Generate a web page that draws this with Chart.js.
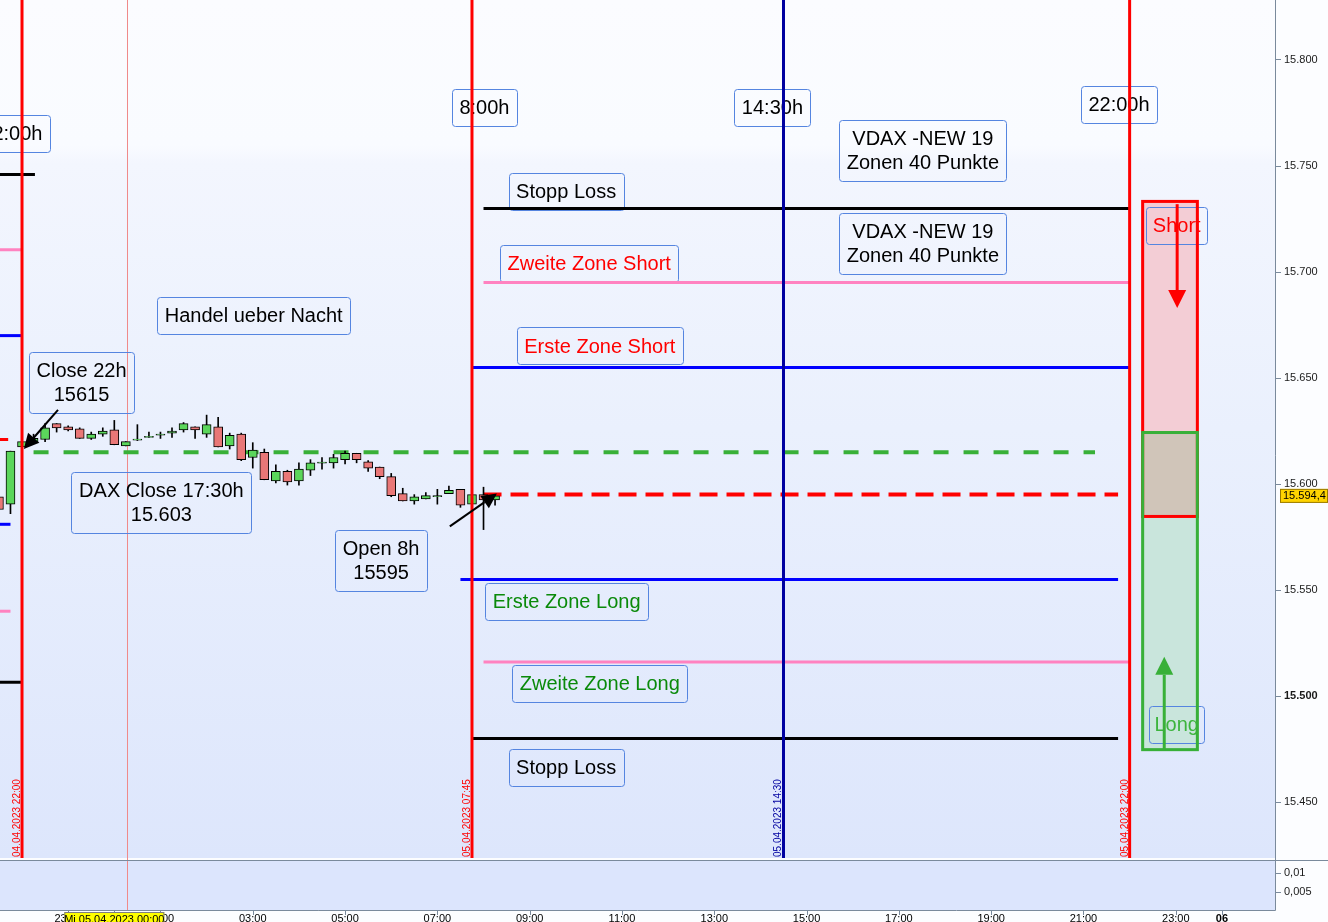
<!DOCTYPE html>
<html>
<head>
<meta charset="utf-8">
<script src="https://cdn.jsdelivr.net/npm/chart.js@4.4.0/dist/chart.umd.min.js"></script>
<style>
html,body{margin:0;padding:0;background:#fff;}
canvas{display:block;}
</style>
</head>
<body>
<canvas id="chart" width="1328" height="922"></canvas>
<script>
// 15 min DAX candles, 04.04.2023 21:30 -> 05.04.2023 08:15
const candleTimes = ['21:30','21:45','22:00','22:15','22:30','22:45','23:00','23:15','23:30','23:45',
 '00:00','00:15','00:30','00:45','01:00','01:15','01:30','01:45','02:00','02:15','02:30','02:45',
 '03:00','03:15','03:30','03:45','04:00','04:15','04:30','04:45','05:00','05:15','05:30','05:45',
 '06:00','06:15','06:30','06:45','07:00','07:15','07:30','07:45','08:00','08:15'];
const opens = [15594,15590.5,15617.5,15619.5,15621,15628.5,15627,15626,15621.5,15623.5,
 15625.5,15618,15620.7,15622,15623,15624,15625.5,15627,15623.5,15627,15618,15623.5,
 15612.5,15615,15601.5,15606,15601.5,15606.5,15609.8,15610,15611.5,15614.5,15610.5,15608,
 15603.5,15595.5,15592,15593,15594,15595.5,15597.5,15590.5,15595,15592.5];
const highs = [15600,15615.5,15620,15623.5,15628.5,15628.5,15627.5,15626.5,15624.5,15626.5,
 15630,15620,15628,15624.5,15624.5,15626.5,15629,15627,15632.5,15631.5,15624,15624,
 15619.5,15616.5,15609,15606.5,15610,15611.5,15612.5,15614,15615.5,15614.5,15611,15608,
 15605,15598,15595,15596,15597.5,15599,15597.5,15595,15598.5,15594.5];
const lows = [15585,15586,15617,15619,15620,15624.5,15625,15621.5,15621,15622.5,
 15618.5,15618,15620.5,15622,15621.5,15622,15624.5,15621.5,15622,15617.5,15616.5,15611,
 15607.5,15602,15600.5,15599.5,15599.5,15604,15607,15607.5,15609.5,15610,15606,15602.5,
 15594,15592,15590.5,15593,15590.5,15595.5,15589,15590.5,15578.5,15590];
const closes = [15588,15615.5,15620,15621.5,15626.5,15626.5,15625.5,15621.5,15623.5,15625,
 15618.5,15620,15621.2,15622.5,15623.5,15625,15628.5,15625.5,15628,15617.5,15623,15611.5,
 15616,15602,15606,15601,15607,15610,15610.3,15612.5,15614.5,15611.5,15607.5,15603.5,
 15594.5,15592,15594,15594.5,15594.5,15597,15590,15595,15592.5,15594.4];
const lastPrice = 15594.4;

// horizontal levels (hours relative to 05.04 00:00)
const levelPrices = [15730, 15695, 15655, 15615, 15595, 15555, 15516, 15480,
 15746, 15710.5, 15670, 15621, 15581, 15540, 15506.5];
const levelFrom = [8, 8, 7.75, -1.75, 8, 7.5, 8, 7.75, -2.5, -2.5, -2.5, -2.5, -2.5, -2.5, -2.5];
const levelTo = [22, 22, 22, 21.25, 21.75, 21.75, 22, 21.75, -1.72, -2, -2, -2.3, -2.25, -2.25, -2];
const levelColors = ['#000000','#ff82c0','#0000ff','#38b038','#ff0000','#0000ff','#ff82c0','#000000',
 '#000000','#ff82c0','#0000ff','#ff0000','#0000ff','#ff82c0','#000000'];
const levelDashed = [false,false,false,true,true,false,false,false,false,false,false,false,false,false,false];

// vertical session lines
const sessionStamps = ['04.04.2023 22:00','05.04.2023 07:45','05.04.2023 14:30','05.04.2023 22:00'];
const sessionColors = ['#ff0000','#ff0000','#0000a0','#ff0000'];

// zones right side
const shortZone = [15584, 15734];
const longZone = [15474, 15625];
const zoneTimes = [22.25, 23.5];

// axis ticks
const priceTicks = [15450, 15500, 15550, 15600, 15650, 15700, 15750, 15800];
const tickHours = [-1, 0, 1, 3, 5, 7, 9, 11, 13, 15, 17, 19, 21, 23, 24];

const notes = [
 {lines:['22:00h'], t:-2.22, p:15765.5, color:'#000'},
 {lines:['8:00h'], t:8.02, p:15777.5, color:'#000'},
 {lines:['14:30h'], t:14.26, p:15777.8, color:'#000'},
 {lines:['22:00h'], t:21.77, p:15779, color:'#000'},
 {lines:['VDAX -NEW 19','Zonen 40 Punkte'], t:17.52, p:15757.5, color:'#000'},
 {lines:['VDAX -NEW 19','Zonen 40 Punkte'], t:17.52, p:15713.4, color:'#000'},
 {lines:['Stopp Loss'], t:9.79, p:15738, color:'#000'},
 {lines:['Zweite Zone Short'], t:10.29, p:15703.8, color:'#ff0000'},
 {lines:['Erste Zone Short'], t:10.52, p:15665.1, color:'#ff0000'},
 {lines:['Handel ueber Nacht'], t:3.02, p:15679.5, color:'#000'},
 {lines:['Close 22h','15615'], t:-0.71, p:15648.1, color:'#000'},
 {lines:['DAX Close 17:30h','15.603'], t:1.02, p:15591.5, color:'#000'},
 {lines:['Open 8h','15595'], t:5.78, p:15564.1, color:'#000'},
 {lines:['Erste Zone Long'], t:9.8, p:15544.6, color:'#0a8a0a'},
 {lines:['Zweite Zone Long'], t:10.52, p:15505.9, color:'#0a8a0a'},
 {lines:['Stopp Loss'], t:9.79, p:15466.5, color:'#000'}
];
const zoneNotes = [
 {lines:['Short'], t:23.02, p:15721.9, color:'#ff0000', w:61},
 {lines:['Long'], t:23.02, p:15486.5, color:'#3cb43c', w:55}
];
const arrows = [
 {t1:-1.22, p1:15635, t2:-1.96, p2:15616.5, color:'#000', w:2, head:15},
 {t1:7.27, p1:15580, t2:8.29, p2:15595.5, color:'#000', w:2, head:15},
 {t1:23.03, p1:15732, t2:23.03, p2:15683, color:'#ff0000', w:3, head:18},
 {t1:22.75, p1:15474.5, t2:22.75, p2:15518.5, color:'#38b038', w:3, head:18}
];
const crossTime = 0.27;

const fam = '"Liberation Sans", Arial, Helvetica, sans-serif';
Chart.defaults.font.family = fam;

const xMin = -2.477, xMax = 25.15;
const yMin = 15423.6, yMax = 15828.3;

function hrs(s){
  const p = s.split(':').map(Number);
  let h = p[0];
  if(h >= 20) h -= 24;
  return h + p[1]/60;
}
function stampHrs(s){
  const d = +s.slice(0,2), h = +s.slice(11,13), m = +s.slice(14,16);
  return (d-5)*24 + h + m/60;
}
function fmtPrice(v){
  return Math.floor(v/1000) + '.' + String(Math.round(v%1000)).padStart(3,'0');
}
function tickLabel(v){
  if(v === 0) return '';
  if(v === 24) return '06';
  const h = ((v % 24) + 24) % 24;
  return String(h).padStart(2,'0') + ':00';
}
function noPad(s){
  s.paddingTop = 0; s.paddingBottom = 0; s.paddingLeft = 0; s.paddingRight = 0;
}

const datasets = [];
datasets.push({
  label:'body', data: candleTimes.map((s,i)=>({x:hrs(s), y:[opens[i], closes[i]]})),
  backgroundColor: opens.map((o,i)=> closes[i] >= o ? '#5bd65b' : '#e97777'),
  borderColor:'#000', borderWidth:1, borderSkipped:false, barThickness:9, grouped:false, order:0
});
datasets.push({
  label:'wick', data: candleTimes.map((s,i)=>({x:hrs(s), y:[lows[i], highs[i]]})),
  backgroundColor:'#000', borderWidth:0, barThickness:1, grouped:false, order:1
});
levelPrices.forEach((p,i)=>{
  datasets.push({
    type:'line', data:[{x:levelFrom[i], y:p},{x:levelTo[i], y:p}],
    borderColor:levelColors[i], borderWidth: levelDashed[i] ? 4 : 3,
    borderDash: levelDashed[i] ? (levelColors[i]==='#ff0000' ? [18,9] : [15,15]) : [],
    pointRadius:0, fill:false, order:2
  });
});
sessionStamps.forEach((s,i)=>{
  const t = stampHrs(s);
  datasets.push({
    type:'line', data:[{x:t, y:yMin},{x:t, y:yMax}],
    borderColor:sessionColors[i], borderWidth:3, pointRadius:0, fill:false, order:-1
  });
});

function box(ctx, x, y, w, h, color){
  const r = 3;
  ctx.beginPath();
  ctx.moveTo(x+r, y); ctx.lineTo(x+w-r, y); ctx.quadraticCurveTo(x+w, y, x+w, y+r);
  ctx.lineTo(x+w, y+h-r); ctx.quadraticCurveTo(x+w, y+h, x+w-r, y+h);
  ctx.lineTo(x+r, y+h); ctx.quadraticCurveTo(x, y+h, x, y+h-r);
  ctx.lineTo(x, y+r); ctx.quadraticCurveTo(x, y, x+r, y);
  ctx.strokeStyle = color; ctx.lineWidth = 1; ctx.stroke();
}
function drawNote(ctx, sx, sy, n){
  ctx.font = '20px ' + fam;
  const tw = Math.max(...n.lines.map(l => ctx.measureText(l).width));
  const w = n.w || Math.round(tw + 15);
  const h = n.lines.length === 1 ? 37 : 61;
  const cx = sx.getPixelForValue(n.t), cy = sy.getPixelForValue(n.p);
  const left = Math.round(cx - w/2) + 0.5, top = Math.round(cy - h/2) + 0.5;
  ctx.fillStyle = n.color; ctx.textAlign = 'center'; ctx.textBaseline = 'middle';
  n.lines.forEach((l,i)=>{
    const ly = cy + (i - (n.lines.length-1)/2) * 24 + 1;
    ctx.fillText(l, cx, ly);
  });
  box(ctx, left, top, w, h, '#5585e0');
}
function drawArrow(ctx, x1, y1, x2, y2, color, w, head){
  const a = Math.atan2(y2-y1, x2-x1);
  const bx = x2 - Math.cos(a)*head, by = y2 - Math.sin(a)*head;
  ctx.strokeStyle = color; ctx.fillStyle = color; ctx.lineWidth = w;
  ctx.beginPath(); ctx.moveTo(x1, y1); ctx.lineTo(bx, by); ctx.stroke();
  const hw = head*0.5;
  ctx.beginPath();
  ctx.moveTo(x2, y2);
  ctx.lineTo(bx + Math.sin(a)*hw, by - Math.cos(a)*hw);
  ctx.lineTo(bx - Math.sin(a)*hw, by + Math.cos(a)*hw);
  ctx.closePath(); ctx.fill();
}

const paintPlugin = {
  id:'paint',
  beforeDraw(chart){
    const ctx = chart.ctx, a = chart.chartArea;
    ctx.save();
    ctx.fillStyle = '#fcfdff';
    ctx.fillRect(0, 0, chart.width, chart.height);
    const g = ctx.createLinearGradient(0, a.top, 0, a.bottom);
    g.addColorStop(0, '#fbfcff');
    g.addColorStop(0.17, '#f9fbff');
    g.addColorStop(0.19, '#f3f6fe');
    g.addColorStop(0.5, '#eaf0fd');
    g.addColorStop(1, '#dde6fc');
    ctx.fillStyle = g;
    ctx.fillRect(a.left, a.top, a.right - a.left, a.bottom - a.top);
    // lower pane
    ctx.fillStyle = '#dce5fd';
    ctx.fillRect(0, a.bottom + 2, a.right, 50);
    ctx.restore();
  },
  beforeDatasetsDraw(chart){
    const ctx = chart.ctx, sx = chart.scales.x, sy = chart.scales.y, a = chart.chartArea;
    ctx.save();
    const cx = Math.round(sx.getPixelForValue(crossTime)) + 0.5;
    ctx.strokeStyle = '#f08a8a'; ctx.lineWidth = 1;
    ctx.beginPath(); ctx.moveTo(cx, 0); ctx.lineTo(cx, a.bottom + 52); ctx.stroke();
    notes.forEach(n => drawNote(ctx, sx, sy, n));
    ctx.restore();
  },
  afterDatasetsDraw(chart){
    const ctx = chart.ctx, sx = chart.scales.x, sy = chart.scales.y, a = chart.chartArea;
    ctx.save();
    const zx1 = sx.getPixelForValue(zoneTimes[0]), zx2 = sx.getPixelForValue(zoneTimes[1]);
    const sTop = sy.getPixelForValue(shortZone[1]), sBot = sy.getPixelForValue(shortZone[0]);
    const lTop = sy.getPixelForValue(longZone[1]), lBot = sy.getPixelForValue(longZone[0]);
    ctx.fillStyle = '#f3cdd5'; ctx.fillRect(zx1, sTop, zx2-zx1, sBot-sTop);
    ctx.fillStyle = '#c9e5dc'; ctx.fillRect(zx1, lTop, zx2-zx1, lBot-lTop);
    ctx.fillStyle = '#d0c5b9'; ctx.fillRect(zx1, lTop, zx2-zx1, sBot-lTop);
    zoneNotes.forEach(n => drawNote(ctx, sx, sy, n));
    ctx.lineWidth = 3;
    ctx.strokeStyle = '#ff0000'; ctx.strokeRect(zx1+1.5, sTop+1.5, zx2-zx1-3, sBot-sTop-3);
    ctx.strokeStyle = '#38b038'; ctx.strokeRect(zx1+1.5, lTop+1.5, zx2-zx1-3, lBot-lTop-3);
    arrows.forEach(r => drawArrow(ctx, sx.getPixelForValue(r.t1), sy.getPixelForValue(r.p1),
      sx.getPixelForValue(r.t2), sy.getPixelForValue(r.p2), r.color, r.w, r.head));
    // rotated stamps on session lines
    ctx.font = '10px ' + fam; ctx.textAlign = 'left'; ctx.textBaseline = 'alphabetic';
    sessionStamps.forEach((s,i)=>{
      const x = sx.getPixelForValue(stampHrs(s));
      ctx.save();
      ctx.translate(x - 2, a.bottom - 1);
      ctx.rotate(-Math.PI/2);
      ctx.fillStyle = sessionColors[i];
      ctx.fillText(s, 0, 0);
      ctx.restore();
    });
    ctx.restore();
  },
  afterDraw(chart){
    const ctx = chart.ctx, sx = chart.scales.x, sy = chart.scales.y, a = chart.chartArea;
    ctx.save();
    const line = '#7a8a9c';
    ctx.strokeStyle = line; ctx.lineWidth = 1;
    ctx.beginPath();
    ctx.moveTo(0, a.bottom + 2.5); ctx.lineTo(chart.width, a.bottom + 2.5);
    ctx.moveTo(0, a.bottom + 52.5); ctx.lineTo(a.right + 0.5, a.bottom + 52.5);
    ctx.moveTo(a.right + 0.5, 0); ctx.lineTo(a.right + 0.5, a.bottom + 52.5);
    ctx.stroke();
    // lower pane ticks
    ctx.font = '11px ' + fam; ctx.fillStyle = '#1a1a1a'; ctx.textAlign = 'left'; ctx.textBaseline = 'middle';
    [[873,'0,01'],[892,'0,005']].forEach(v=>{
      ctx.beginPath(); ctx.moveTo(a.right + 1, v[0] + 0.5); ctx.lineTo(a.right + 6, v[0] + 0.5); ctx.stroke();
      ctx.fillText(v[1], a.right + 9, v[0]);
    });
    // hour ticks below lower pane
    ctx.beginPath();
    tickHours.forEach(h=>{
      const x = Math.round(sx.getPixelForValue(h)) + 0.5;
      ctx.moveTo(x, a.bottom + 53); ctx.lineTo(x, a.bottom + 57);
    });
    ctx.stroke();
    // crosshair time label
    const tx = sx.getPixelForValue(0);
    ctx.fillStyle = '#ffff00'; ctx.fillRect(tx - 50, a.bottom + 54, 100, 12);
    ctx.strokeStyle = '#808080'; ctx.strokeRect(tx - 49.5, a.bottom + 54.5, 99, 12);
    ctx.fillStyle = '#000'; ctx.textAlign = 'center'; ctx.textBaseline = 'top';
    ctx.fillText('Mi 05.04.2023 00:00', tx, a.bottom + 56);
    // last price label
    const py = sy.getPixelForValue(lastPrice);
    ctx.fillStyle = '#ffd400'; ctx.fillRect(a.right + 5, py - 7, 48, 14);
    ctx.strokeStyle = '#9a7a00'; ctx.strokeRect(a.right + 5.5, py - 6.5, 47, 13);
    ctx.fillStyle = '#000'; ctx.textAlign = 'left'; ctx.textBaseline = 'middle';
    ctx.fillText('15.594,4', a.right + 8, py + 0.5);
    ctx.restore();
  }
};

new Chart(document.getElementById('chart'), {
  type:'bar',
  data:{ datasets: datasets },
  options:{
    responsive:false,
    devicePixelRatio:1,
    animation:false,
    layout:{ padding:0 },
    plugins:{ legend:{display:false}, tooltip:{enabled:false} },
    scales:{
      x:{
        type:'linear', min:xMin, max:xMax, offset:false,
        afterBuildTicks: s => { s.ticks = tickHours.map(v => ({value:v})); },
        afterFit: s => { s.height = 64; noPad(s); },
        grid:{ display:false, drawTicks:false },
        border:{ display:false },
        ticks:{
          padding:54, maxRotation:0, autoSkip:false, color:'#000',
          font: c => ({family:fam, size:11, weight: c.tick && c.tick.value === 24 ? 'bold' : 'normal'}),
          callback: v => tickLabel(v)
        }
      },
      y:{
        position:'right', min:yMin, max:yMax,
        afterBuildTicks: s => { s.ticks = priceTicks.map(v => ({value:v})); },
        afterFit: s => { s.width = 53; noPad(s); },
        grid:{ drawOnChartArea:false, drawTicks:true, tickLength:6, color:'#7a8a9c' },
        border:{ display:false },
        ticks:{
          padding:3, color:'#1a1a1a',
          font: c => ({family:fam, size:11, weight: c.tick && c.tick.value === 15500 ? 'bold' : 'normal'}),
          callback: v => fmtPrice(v)
        }
      }
    }
  },
  plugins:[paintPlugin]
});
</script>
</body>
</html>
